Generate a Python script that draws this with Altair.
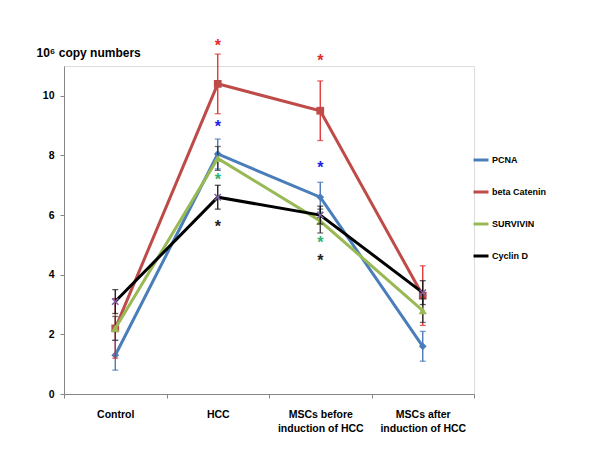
import altair as alt
import pandas as pd

categories = ["Control", "HCC", "MSCs before induction of HCC", "MSCs after induction of HCC"]
series_names = ["PCNA", "beta Catenin", "SURVIVIN", "Cyclin D"]
pcna = [1.3, 8.05, 6.6, 1.6]
pcna_err = [0.5, 0.5, 0.5, 0.5]
beta = [2.2, 10.4, 9.5, 3.3]
beta_err = [1.0, 1.0, 1.0, 1.0]
surv = [2.2, 7.9, 5.8, 2.8]
surv_err = [0.4, 0.4, 0.4, 0.4]
cyc = [3.1, 6.6, 6.0, 3.4]
cyc_err = [0.4, 0.4, 0.3, 0.4]

line_colors = ["#4A7EBB", "#BE4B48", "#98B954", "#000000"]
err_colors = ["#3F6FB0", "#E02A2A", "#333333", "#111111"]
marker_colors = ["#4A7EBB", "#BE4B48", "#98B954", "#7D60A0"]
marker_shapes = ["diamond", "square", "triangle-up", "M-1,-1L1,1M-1,1L1,-1"]

star_cats = ["HCC"] * 4 + ["MSCs before induction of HCC"] * 4
star_vals = [11.8, 9.1, 7.3, 5.75, 11.3, 7.7, 5.2, 4.6]
star_colors = ["#E52B2B", "#2323E6", "#2DB36F", "#222222"] * 2

values = [pcna, beta, surv, cyc]
errs = [pcna_err, beta_err, surv_err, cyc_err]

FONT = "Liberation Sans"

xscale = alt.Scale(type="band", domain=categories, paddingInner=0, paddingOuter=0)
yscale = alt.Scale(domain=[0, 11], nice=False)

x_axis = alt.Axis(
    title=None, labelAngle=0, labelFont=FONT, labelFontSize=10.5, labelFontWeight="bold",
    labelColor="black", labelPadding=11, labelLineHeight=14, tickBand="extent",
    domainColor="#868686", tickColor="#868686", tickSize=4,
    labelExpr="split(replace(datum.label, ' induction', '|induction'), '|')",
)
y_axis = alt.Axis(
    values=[0, 2, 4, 6, 8, 10], grid=False, labelFont=FONT, labelFontSize=10.5,
    labelFontWeight="bold", labelColor="black", labelPadding=6, tickSize=4,
    domainColor="#868686", tickColor="#868686",
    title="10⁶ copy numbers", titleAngle=0, titleX=-28, titleY=-14, titleAlign="left",
    titleBaseline="middle", titleFont=FONT, titleFontSize=12, titleFontWeight="bold",
    titleColor="black",
)

def X():
    return alt.X("cat:N", sort=categories, scale=xscale, axis=x_axis, bandPosition=0.5)

layers = []
for i, name in enumerate(series_names):
    df = pd.DataFrame({
        "series": name,
        "cat": categories,
        "value": values[i],
        "lo": [v - e for v, e in zip(values[i], errs[i])],
        "hi": [v + e for v, e in zip(values[i], errs[i])],
    })
    base = alt.Chart(df)
    err = base.mark_rule(color=err_colors[i], strokeWidth=1.3).encode(
        x=X(), y=alt.Y("lo:Q", scale=yscale, axis=y_axis), y2="hi:Q"
    )
    caps_lo = base.mark_tick(color=err_colors[i], thickness=1.3, size=6, orient="horizontal").encode(
        x=X(), y=alt.Y("lo:Q", scale=yscale)
    )
    caps_hi = base.mark_tick(color=err_colors[i], thickness=1.3, size=6, orient="horizontal").encode(
        x=X(), y=alt.Y("hi:Q", scale=yscale)
    )
    line = base.mark_line(strokeWidth=3).encode(
        x=X(), y=alt.Y("value:Q", scale=yscale),
        color=alt.Color(
            "series:N",
            scale=alt.Scale(domain=series_names, range=line_colors),
            legend=alt.Legend(
                title=None, orient="none", legendX=408, legendY=85, symbolType="stroke",
                symbolStrokeWidth=3, symbolSize=225, labelFont=FONT, labelFontSize=9,
                labelFontWeight="bold", labelColor="black", rowPadding=17, labelOffset=2,
            ),
        ),
    )
    if i == 3:
        pts = base.mark_point(shape=marker_shapes[i], filled=False, color=marker_colors[i],
                              strokeWidth=1.5, size=40, opacity=1)
    else:
        pts = base.mark_point(shape=marker_shapes[i], filled=True, color=marker_colors[i],
                              size=60 if i != 2 else 70, opacity=1)
    pts = pts.encode(x=X(), y=alt.Y("value:Q", scale=yscale))
    layers += [err, caps_lo, caps_hi, line, pts]

stars = pd.DataFrame({"cat": star_cats, "value": star_vals, "col": star_colors})
star_layer = alt.Chart(stars).mark_text(
    text="*", fontSize=16, font=FONT, fontWeight="bold", baseline="alphabetic", dy=9
).encode(
    x=X(), y=alt.Y("value:Q", scale=yscale), color=alt.Color("col:N", scale=None, legend=None)
)
layers.append(star_layer)

chart = alt.layer(*layers).properties(
    width=410, height=328,
    autosize=alt.AutoSizeParams(type="none"),
    padding={"left": 56, "top": 58, "right": 118, "bottom": 62},
).configure_view(stroke=None).configure(background="white")

chart.save("out.html", embed_options={"renderer": "svg", "actions": False})
